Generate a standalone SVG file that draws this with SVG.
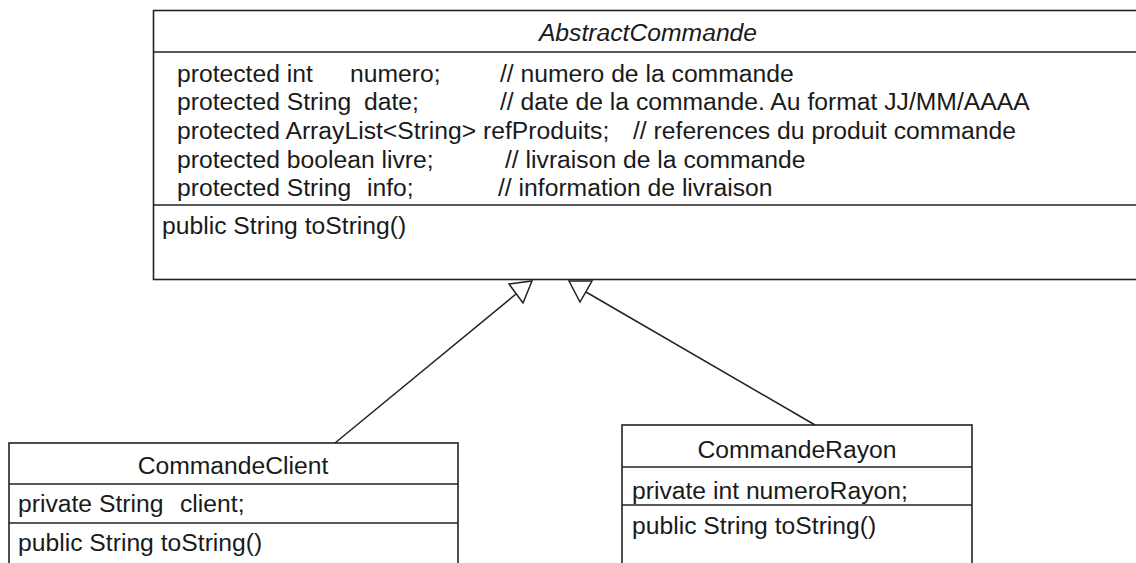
<svg xmlns="http://www.w3.org/2000/svg" width="1136" height="563" viewBox="0 0 1136 563">
<style>
.box{fill:#fff;stroke:#222;stroke-width:1.6}
.sep{stroke:#222;stroke-width:1.6}
.t{font-family:"Liberation Sans",Arial,sans-serif;font-size:24.7px;fill:#1a1a1a}
.i{font-style:italic}
.c{text-anchor:middle}
.edge{stroke:#222;stroke-width:1.5;fill:none}
.head{fill:#fff;stroke:#222;stroke-width:1.5;stroke-linejoin:miter}
</style>
<rect width="1136" height="563" fill="#fff"/>
<g id="AbstractCommande">
<rect class="box" x="153.5" y="10.5" width="1000" height="269"/>
<line class="sep" x1="153.5" y1="52" x2="1136" y2="52"/>
<line class="sep" x1="153.5" y1="205" x2="1136" y2="205"/>
<text class="t i c" x="648" y="40.5">AbstractCommande</text>
<text class="t" x="177" y="81.5">protected int<tspan x="350">numero;</tspan><tspan x="500">// numero de la commande</tspan></text>
<text class="t" x="177" y="110">protected String<tspan x="364">date;</tspan><tspan x="500">// date de la commande. Au format JJ/MM/AAAA</tspan></text>
<text class="t" x="177" y="139">protected ArrayList&lt;String&gt; refProduits;<tspan x="633">// references du produit commande</tspan></text>
<text class="t" x="177" y="167.5">protected boolean livre;<tspan x="505">// livraison de la commande</tspan></text>
<text class="t" x="177" y="196">protected String<tspan x="367">info;</tspan><tspan x="498">// information de livraison</tspan></text>
<text class="t" x="162" y="233.5">public String toString()</text>
</g>
<g id="CommandeClient">
<rect class="box" x="9" y="443" width="449" height="140"/>
<line class="sep" x1="9" y1="484" x2="458" y2="484"/>
<line class="sep" x1="9" y1="523" x2="458" y2="523"/>
<text class="t c" x="233" y="474">CommandeClient</text>
<text class="t" x="18" y="512">private String<tspan x="180">client;</tspan></text>
<text class="t" x="18" y="551">public String toString()</text>
</g>
<g id="CommandeRayon">
<rect class="box" x="622" y="425" width="350" height="160"/>
<line class="sep" x1="622" y1="467" x2="972" y2="467"/>
<line class="sep" x1="622" y1="505" x2="972" y2="505"/>
<text class="t c" x="797" y="458">CommandeRayon</text>
<text class="t" x="632" y="499">private int numeroRayon;</text>
<text class="t" x="632" y="534">public String toString()</text>
</g>
<g id="connectors">
<line class="edge" x1="335" y1="443" x2="516" y2="294"/>
<polygon class="head" points="509,284 532,281 523,303"/>
<line class="edge" x1="815" y1="425" x2="586" y2="292"/>
<polygon class="head" points="569,281 592,281 580,302"/>
</g>
</svg>
